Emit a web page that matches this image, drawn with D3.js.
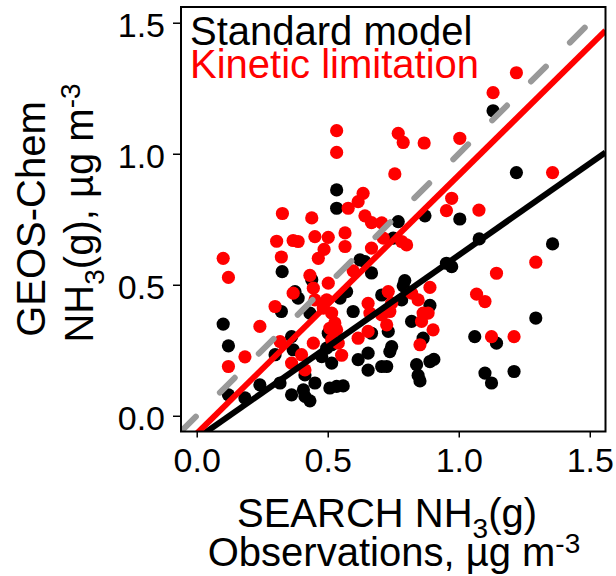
<!DOCTYPE html>
<html>
<head>
<meta charset="utf-8">
<script src="https://cdn.jsdelivr.net/npm/d3@7"></script>
<style>
  body { margin: 0; background: #fff; }
  svg text { font-family: "Liberation Sans", Arial, sans-serif; }
</style>
</head>
<body>
<div id="chart"></div>
<script>
// Standard model (black) : SEARCH observation vs GEOS-Chem, ug m-3
const stdObs = [1.131, 1.220, 0.534, 0.534, 0.871, 0.769, 1.004, 1.078, 1.358, 0.750,
  0.623, 0.642, 0.667, 0.953, 0.973, 0.326, 0.794, 0.788, 0.572, 0.706,
  0.782, 0.890, 0.597, 0.820, 0.731, 0.667, 0.864, 0.744, 0.737, 0.654,
  0.616, 0.706, 0.725, 0.654, 0.839, 0.890, 0.905, 0.845, 0.852, 0.508,
  0.534, 0.559, 1.061, 1.294, 1.144, 1.100, 1.125, 1.211, 0.101, 0.121,
  0.121, 0.184, 0.241, 0.318, 0.362, 0.375, 0.387, 0.323, 0.299, 0.362,
  0.368, 0.407, 0.432, 0.413, 0.451, 0.432, 0.477, 0.496, 0.515, 0.502,
  0.547, 0.439, 0.413, 0.515];
const stdModel = [1.164, 0.928, 0.862, 0.792, 0.763, 0.741, 0.751, 0.675, 0.656, 0.678,
  0.595, 0.588, 0.545, 0.582, 0.569, 0.550, 0.516, 0.496, 0.474, 0.461,
  0.442, 0.421, 0.398, 0.360, 0.322, 0.315, 0.296, 0.264, 0.245, 0.239,
  0.214, 0.188, 0.188, 0.174, 0.195, 0.207, 0.215, 0.154, 0.133, 0.106,
  0.112, 0.114, 0.302, 0.373, 0.277, 0.163, 0.125, 0.169, 0.350, 0.267,
  0.080, 0.068, 0.118, 0.125, 0.080, 0.474, 0.449, 0.398, 0.233, 0.302,
  0.252, 0.099, 0.057, 0.074, 0.125, 0.392, 0.226, 0.258, 0.201, 0.315,
  0.449, 0.519, 0.156, 0.271];

// Kinetic limitation (red)
const kinObs = [1.220, 1.131, 0.534, 0.534, 0.769, 0.788, 0.868, 1.004, 0.756, 1.358,
  0.635, 0.616, 0.578, 0.973, 0.953, 1.077, 0.327, 0.439, 0.642, 0.667,
  0.706, 0.305, 0.368, 0.387, 0.451, 0.502, 0.566, 0.566, 0.486, 0.464,
  0.323, 0.101, 0.121, 0.667, 0.712, 0.782, 0.801, 0.597, 0.432, 1.294,
  1.144, 1.068, 1.100, 1.125, 1.211, 0.445, 0.368, 0.502, 0.451, 0.299,
  0.241, 0.184, 0.121, 0.318, 0.362, 0.400, 0.413, 0.445, 0.483, 0.496,
  0.515, 0.527, 0.508, 0.534, 0.515, 0.540, 0.553, 0.731, 0.820, 0.845,
  0.890, 0.654, 0.661, 0.744, 0.737, 0.706, 0.725, 0.654, 0.616, 0.864,
  0.883, 0.858, 0.902, 0.852];
const kinModel = [1.309, 1.233, 1.088, 1.005, 1.078, 1.043, 1.041, 1.059, 0.923, 0.928,
  0.849, 0.817, 0.792, 0.830, 0.783, 0.785, 0.772, 0.755, 0.763, 0.737,
  0.736, 0.666, 0.669, 0.665, 0.684, 0.681, 0.698, 0.646, 0.635, 0.601,
  0.606, 0.601, 0.528, 0.640, 0.678, 0.665, 0.652, 0.553, 0.536, 0.586,
  0.544, 0.464, 0.436, 0.302, 0.302, 0.487, 0.468, 0.506, 0.442, 0.417,
  0.341, 0.225, 0.188, 0.283, 0.201, 0.233, 0.175, 0.277, 0.411, 0.442,
  0.392, 0.354, 0.334, 0.328, 0.290, 0.277, 0.231, 0.474, 0.468, 0.442,
  0.490, 0.429, 0.392, 0.430, 0.398, 0.385, 0.347, 0.322, 0.296, 0.392,
  0.392, 0.360, 0.328, 0.271];

// fitted lines: [intercept, slope]
const stdFit = [-0.087, 0.70];
const kinFit = [-0.068, 0.986];

const tickValues = [0, 0.5, 1.0, 1.5];
const axisDomain = [-0.06, 1.56];

const width = 616, height = 576;
const margin = {top: 7, left: 181, right: 10.5, bottom: 144.5};
const innerW = width - margin.left - margin.right;
const innerH = height - margin.top - margin.bottom;

const x = d3.scaleLinear().domain(axisDomain).range([0, innerW]);
const y = d3.scaleLinear().domain(axisDomain).range([innerH, 0]);

const svg = d3.select("#chart").append("svg")
  .attr("width", width)
  .attr("height", height);

svg.append("defs").append("clipPath")
  .attr("id", "plotclip")
  .append("rect")
  .attr("width", innerW)
  .attr("height", innerH);

const g = svg.append("g")
  .attr("transform", "translate(" + margin.left + "," + margin.top + ")");

// axes
const xAxis = g.append("g")
  .attr("transform", "translate(0," + innerH + ")")
  .call(d3.axisBottom(x).tickValues(tickValues).tickFormat(d3.format(".1f")).tickSize(6));
xAxis.select(".domain").remove();
xAxis.selectAll("line").attr("stroke", "#000").attr("stroke-width", 1.5);
xAxis.selectAll("text")
  .attr("y", 40.5).attr("dy", 0)
  .attr("fill", "#000")
  .style("font-size", "34px")
  .style("font-family", "Liberation Sans, Arial, sans-serif");

const yAxis = g.append("g")
  .call(d3.axisLeft(y).tickValues(tickValues).tickFormat(d3.format(".1f")).tickSize(8));
yAxis.select(".domain").remove();
yAxis.selectAll("line").attr("stroke", "#000").attr("stroke-width", 1.5);
yAxis.selectAll("text")
  .attr("x", -16).attr("dy", "0.4em")
  .attr("fill", "#000")
  .style("font-size", "34px")
  .style("font-family", "Liberation Sans, Arial, sans-serif");

const plot = g.append("g").attr("clip-path", "url(#plotclip)");

// points
const stdPts = d3.zip(stdObs, stdModel);
const kinPts = d3.zip(kinObs, kinModel);

plot.selectAll(".std").data(stdPts).enter().append("circle")
  .attr("class", "std")
  .attr("cx", d => x(d[0]))
  .attr("cy", d => y(d[1]))
  .attr("r", 6.6)
  .attr("fill", "#000");

plot.selectAll(".kin").data(kinPts).enter().append("circle")
  .attr("class", "kin")
  .attr("cx", d => x(d[0]))
  .attr("cy", d => y(d[1]))
  .attr("r", 6.6)
  .attr("fill", "#ff0000");

// 1:1 line and fits
const line = d3.line().x(d => x(d[0])).y(d => y(d[1]));

plot.append("path")
  .attr("d", line([[axisDomain[0], axisDomain[0]], [axisDomain[1], axisDomain[1]]]))
  .attr("stroke", "#999999")
  .attr("stroke-width", 6)
  .attr("stroke-linecap", "round")
  .attr("stroke-dasharray", "21 34")
  .attr("fill", "none");

function fitLine(fit) {
  return axisDomain.map(v => [v, fit[0] + fit[1] * v]);
}

plot.append("path")
  .attr("d", line(fitLine(stdFit)))
  .attr("stroke", "#000")
  .attr("stroke-width", 6)
  .attr("fill", "none");

plot.append("path")
  .attr("d", line(fitLine(kinFit)))
  .attr("stroke", "#ff0000")
  .attr("stroke-width", 6)
  .attr("fill", "none");

// frame
g.append("rect")
  .attr("width", innerW)
  .attr("height", innerH)
  .attr("fill", "none")
  .attr("stroke", "#000")
  .attr("stroke-width", 2);

// legend
svg.append("text")
  .attr("x", 190).attr("y", 45)
  .style("font-size", "40px")
  .attr("fill", "#000")
  .text("Standard model");
svg.append("text")
  .attr("x", 190).attr("y", 78)
  .style("font-size", "40px")
  .attr("fill", "#ff0000")
  .text("Kinetic limitation");

// x title
const xt1 = svg.append("text")
  .attr("x", 387).attr("y", 527)
  .attr("text-anchor", "middle")
  .style("font-size", "40px");
xt1.append("tspan").text("SEARCH NH");
xt1.append("tspan").attr("dy", 11).style("font-size", "28px").text("3");
xt1.append("tspan").attr("dy", -11).text("(g)");

const xt2 = svg.append("text")
  .attr("x", 394).attr("y", 566)
  .attr("text-anchor", "middle")
  .style("font-size", "40px");
xt2.append("tspan").text("Observations, \u00b5g m");
xt2.append("tspan").attr("dy", -13).style("font-size", "28px").text("-3");

// y title
svg.append("text")
  .attr("transform", "translate(45,219) rotate(-90)")
  .attr("text-anchor", "middle")
  .style("font-size", "40px")
  .text("GEOS-Chem");

const yt2 = svg.append("text")
  .attr("transform", "translate(93,213) rotate(-90)")
  .attr("text-anchor", "middle")
  .style("font-size", "40px");
yt2.append("tspan").text("NH");
yt2.append("tspan").attr("dy", 11).style("font-size", "28px").text("3");
yt2.append("tspan").attr("dy", -11).text("(g), \u00b5g m");
yt2.append("tspan").attr("dy", -13).style("font-size", "28px").text("-3");
</script>
</body>
</html>
